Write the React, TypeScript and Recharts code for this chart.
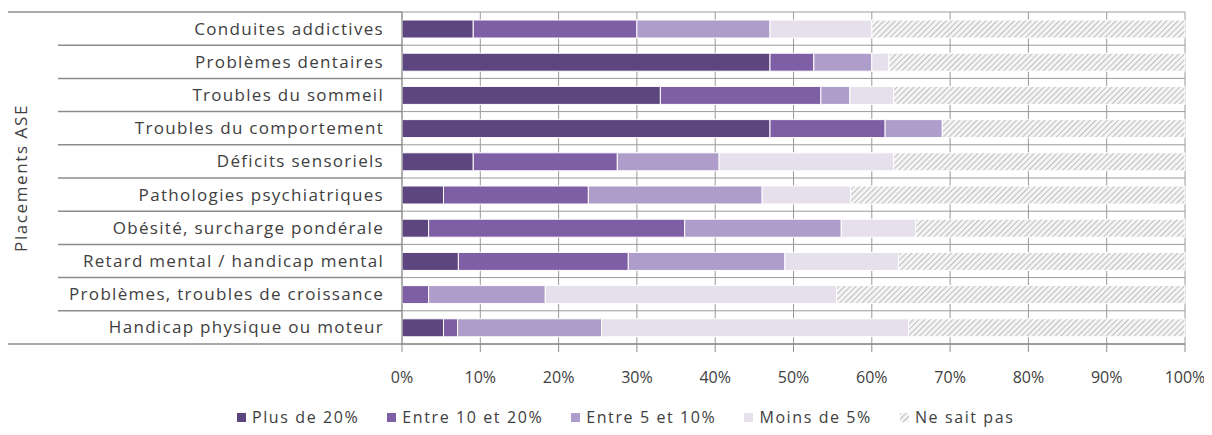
import React from 'react';
import { BarChart, Bar, XAxis, YAxis, CartesianGrid, Legend } from 'recharts';

// Share of placements (%) per health issue, stacked by frequency class
const categories = [
  'Conduites addictives',
  'Problèmes dentaires',
  'Troubles du sommeil',
  'Troubles du comportement',
  'Déficits sensoriels',
  'Pathologies psychiatriques',
  'Obésité, surcharge pondérale',
  'Retard mental / handicap mental',
  'Problèmes, troubles de croissance',
  'Handicap physique ou moteur',
];
const plusDe20 = [9.1, 47, 33, 47, 9.1, 5.3, 3.4, 7.2, 0, 5.3];
const entre10et20 = [20.9, 5.6, 20.5, 14.7, 18.4, 18.5, 32.7, 21.7, 3.4, 1.8];
const entre5et10 = [17, 7.4, 3.7, 7.3, 13, 22.2, 20, 20, 14.9, 18.4];
const moinsDe5 = [13, 2.2, 5.6, 0, 22.3, 11.3, 9.5, 14.5, 37.2, 39.2];
const neSaitPas = [40, 37.8, 37.2, 31, 37.2, 42.7, 34.4, 36.6, 44.5, 35.3];
const xTicks = [0, 10, 20, 30, 40, 50, 60, 70, 80, 90, 100];

const series = [
  { key: 'plus20', name: 'Plus de 20%', values: plusDe20, fill: '#5d4580' },
  { key: 'e10_20', name: 'Entre 10 et 20%', values: entre10et20, fill: '#7e5fa6' },
  { key: 'e5_10', name: 'Entre 5 et 10%', values: entre5et10, fill: '#ae9dca' },
  { key: 'moins5', name: 'Moins de 5%', values: moinsDe5, fill: '#e5e0ec' },
  { key: 'nsp', name: 'Ne sait pas', values: neSaitPas, fill: 'url(#hatch)' },
];

const data = categories.map((name, i) => {
  const row: Record<string, string | number> = { name };
  series.forEach((s) => (row[s.key] = s.values[i]));
  return row;
});

const FONT = '"Open Sans", sans-serif';
const TEXT = '#404040';
const PLOT_LEFT = 394;
const PLOT_TOP = 4;
const PLOT_H = 332;
const BAND = PLOT_H / categories.length;

const CategoryTick = (props: any) => {
  const { y, payload, index } = props;
  const last = index === categories.length - 1;
  return (
    <g>
      {index === 0 && (
        <line x1={0} x2={PLOT_LEFT} y1={y - BAND / 2} y2={y - BAND / 2} stroke="#8c8c8c" strokeWidth={1.5} />
      )}
      <line x1={last ? 0 : 50} x2={PLOT_LEFT} y1={y + BAND / 2} y2={y + BAND / 2} stroke="#8c8c8c" strokeWidth={1.5} />
      <text x={376} y={y} dy="0.35em" textAnchor="end" fill={TEXT} fontFamily={FONT} fontSize={17} letterSpacing={1.3}>
        {payload.value}
      </text>
    </g>
  );
};

const LegendContent = () => (
  <div style={{ display: 'flex', paddingLeft: 229, height: 20, alignItems: 'center', fontFamily: FONT, fontSize: 16, color: TEXT, letterSpacing: 1.6 }}>
    {series.map((s) => (
      <div key={s.key} style={{ display: 'flex', alignItems: 'center', marginRight: 28 }}>
        <svg width={9} height={9} style={{ marginRight: 6 }}>
          <rect width={9} height={9} fill={s.fill} />
        </svg>
        <span>{s.name}</span>
      </div>
    ))}
  </div>
);

export default function App() {
  return (
    <BarChart
      width={1196}
      height={427}
      data={data}
      layout="vertical"
      margin={{ top: PLOT_TOP, right: 19, left: 0, bottom: 26 }}
      barSize={18}
    >
      <defs>
        <pattern id="hatch" width="4" height="4" patternUnits="userSpaceOnUse" patternTransform="rotate(45)">
          <rect width="4" height="4" fill="#f4f4f4" />
          <line x1="0" y1="0" x2="0" y2="4" stroke="#b8b8b8" strokeWidth="1.8" />
        </pattern>
      </defs>
      <CartesianGrid
        stroke="#9a9a9a"
        horizontalCoordinatesGenerator={({ offset }: any) =>
          categories.map((_, i) => offset.top + (i * offset.height) / categories.length).concat(offset.top + offset.height)
        }
      />
      <XAxis
        type="number"
        domain={[0, 100]}
        ticks={xTicks}
        tickFormatter={(v) => `${v}%`}
        tick={{ fill: TEXT, fontSize: 16, fontFamily: FONT }}
        tickLine={{ stroke: '#8c8c8c' }}
        tickSize={8}
        tickMargin={20}
        axisLine={{ stroke: '#8c8c8c', strokeWidth: 1.5 }}
        height={45}
        interval={0}
      />
      <YAxis
        type="category"
        dataKey="name"
        width={PLOT_LEFT}
        tick={<CategoryTick />}
        tickLine={false}
        axisLine={{ stroke: '#8c8c8c' }}
        interval={0}
        label={{
          content: () => (
            <text
              transform={`translate(13, ${PLOT_TOP + PLOT_H / 2}) rotate(-90)`}
              textAnchor="middle"
              dy="0.35em"
              fill={TEXT}
              fontFamily={FONT}
              fontSize={17}
              letterSpacing={1.6}
            >
              Placements ASE
            </text>
          ),
        }}
      />
      <Legend content={<LegendContent />} wrapperStyle={{ left: 0, width: 1196, top: 399, bottom: 'auto' }} />
      {series.map((s) => (
        <Bar key={s.key} dataKey={s.key} name={s.name} stackId="a" fill={s.fill} stroke="#ffffff" strokeWidth={1} isAnimationActive={false} />
      ))}
    </BarChart>
  );
}
